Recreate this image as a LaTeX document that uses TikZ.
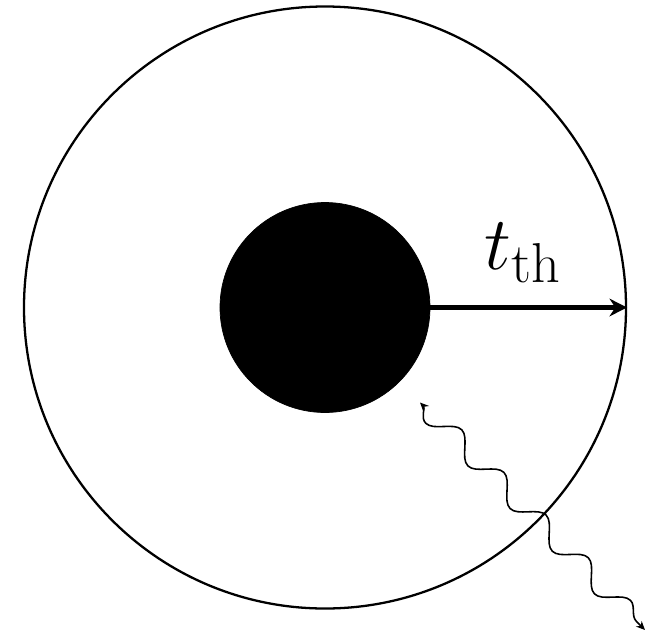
\RequirePackage{fix-cm}
\documentclass[tikz,border=0pt]{standalone}
\usepackage{amsmath}
\usepackage{tikz}
\usetikzlibrary{
arrows.meta,
positioning,
decorations.pathmorphing
}
\DeclareMathSizes{43}{43}{32}{24}

\begin{document}
\begin{tikzpicture}[
  >=Stealth,
  shell/.style={draw, circle, line width=1.3pt, minimum size=12.04cm, inner sep=0pt},
  core/.style={draw, circle, fill=black, minimum size=4.2cm, inner sep=0pt},
  radius/.style={->, line width=2.8pt, >={Stealth[length=10pt, width=10pt]}},
  photon/.style={<->, line width=0.9pt, >={Stealth[length=5pt, width=4.5pt]}, decorate,
    decoration={snake, amplitude=-0.21cm, segment length=1.2cm, pre length=0pt, post length=0pt}}
]
\useasboundingbox (-6.5,-6.51) rectangle (6.52,6.15);

% Shell and core
\node[shell] (shell) at (0,0) {};
\node[core] (core) at (0,0) {};

% Thickness
\draw[radius] (core.east) -- (shell.east);
\node[font=\fontsize{43}{50}\selectfont] (tth) at (3.95,1.1) {$t_{\mathrm{th}}$};

% Escaping photon
\coordinate (pin) at (1.9,-1.9);
\coordinate (pout) at (6.4,-6.45);
\draw[photon] (pin) -- (pout);

\end{tikzpicture}
\end{document}
